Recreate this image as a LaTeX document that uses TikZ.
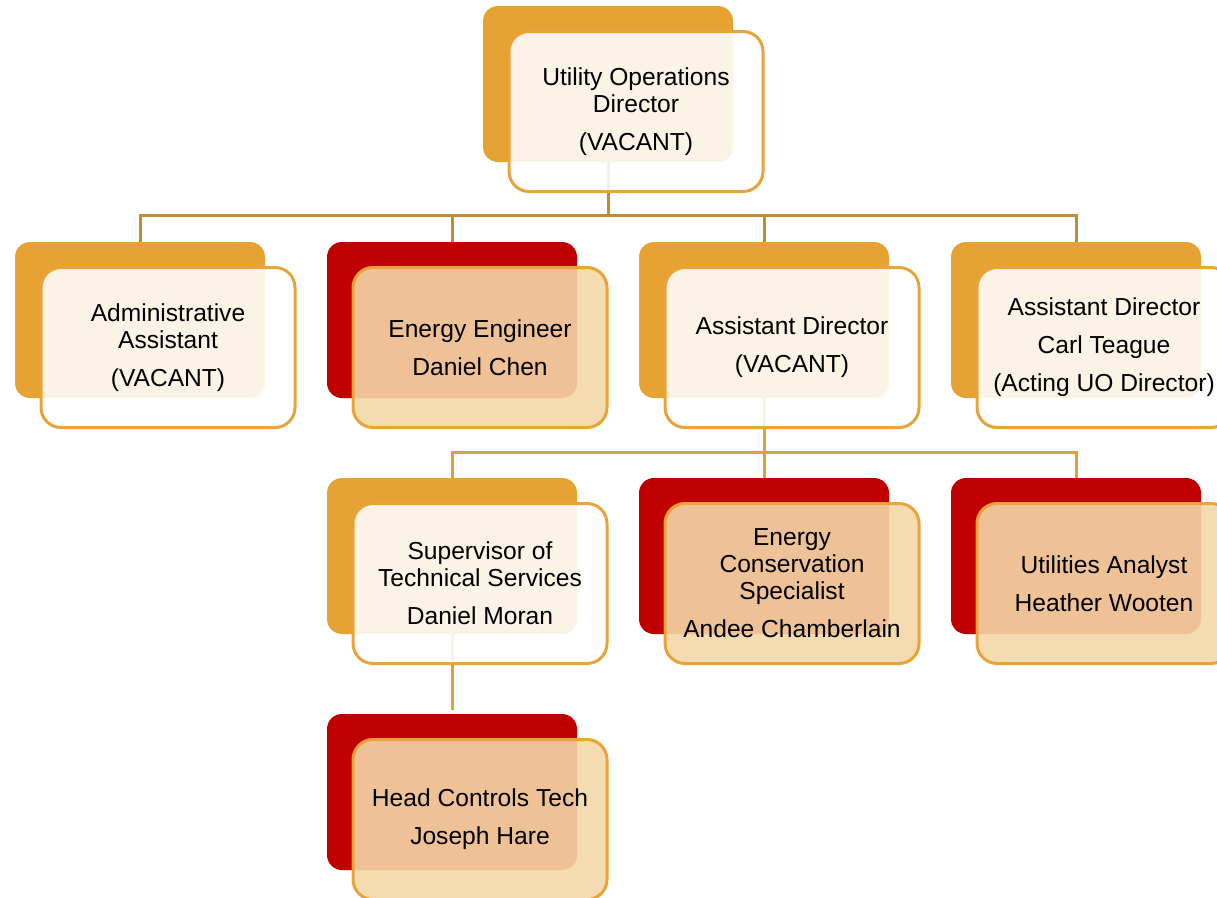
\documentclass[tikz,border=0pt]{standalone}
\usepackage{fontspec}
\setmainfont{Liberation Sans}
\definecolor{borange}{HTML}{E6A232}
\definecolor{bred}{HTML}{C00000}
\definecolor{bline}{HTML}{E8A33A}
\definecolor{peach}{RGB}{244,216,167}
\definecolor{connA}{HTML}{C38B35}
\definecolor{connB}{HTML}{DFA035}
\tikzset{
  backbox/.style={rounded corners=15pt, minimum width=250pt, minimum height=156pt, inner sep=0pt, outer sep=0pt, draw=none},
  backO/.style={backbox, fill=borange},
  backR/.style={backbox, fill=bred},
  frontbox/.style={draw=bline, line width=3pt, rounded corners=20pt, minimum width=254pt, minimum height=160pt, inner sep=0pt, outer sep=0pt, text opacity=1, align=center, text=black, font=\fontsize{24.6pt}{27pt}\selectfont},
  frontW/.style={frontbox, fill=white, fill opacity=0.88},
  frontP/.style={frontbox, fill=peach, fill opacity=0.9},
  connA/.style={draw=connA, line width=3pt},
  connB/.style={draw=connB, line width=3pt}
}
\begin{document}
\begin{tikzpicture}[x=1pt,y=-1pt]
\useasboundingbox (0,0) rectangle (1217,897);
\clip (0,0) rectangle (1217,897);
% back boxes
\node[backO] (top-b) at (608,84) {};
\node[backO] (adm-b) at (140,320) {};
\node[backR] (ee-b) at (452,320) {};
\node[backO] (ad-b) at (764,320) {};
\node[backO] (ct-b) at (1076,320) {};
\node[backO] (sup-b) at (452,556) {};
\node[backR] (ecs-b) at (764,556) {};
\node[backR] (ua-b) at (1076,556) {};
\node[backR] (hct-b) at (452,792) {};
% connectors
\coordinate (bus1) at (608,215);
\draw[connA] (top-b.south) -- (bus1);
\foreach \c in {adm-b,ee-b,ad-b,ct-b} \draw[connA] (\c.north) |- (bus1);
\coordinate (bus2) at (764,452);
\draw[connB] (ad-b.south) -- (bus2);
\foreach \c in {sup-b,ecs-b,ua-b} \draw[connB] (\c.north) |- (bus2);
\coordinate (hctin) at (452,710);
\draw[connB] (sup-b.south) -- (hctin);
% front boxes
\node[frontW] (top) at (636,111.5) {Utility Operations\\Director\\[11pt](VACANT)};
\node[frontW] (adm) at (168,347.5) {Administrative\\Assistant\\[11pt](VACANT)};
\node[frontP] (ee) at (480,347.5) {Energy Engineer\\[11pt]Daniel Chen};
\node[frontW] (ad) at (792,347.5) {Assistant Director\\[11pt](VACANT)};
\node[frontW] (ct) at (1104,347.5) {Assistant Director\\[11pt]Carl Teague\\[11pt](Acting UO Director)};
\node[frontW] (sup) at (480,583.5) {Supervisor of\\Technical Services\\[11pt]Daniel Moran};
\node[frontP] (ecs) at (792,583.5) {Energy\\Conservation\\Specialist\\[11pt]Andee Chamberlain};
\node[frontP] (ua) at (1104,583.5) {Utilities Analyst\\[11pt]Heather Wooten};
\node[frontP] (hct) at (480,819.5) {Head Controls Tech\\[11pt]Joseph Hare};
\end{tikzpicture}
\end{document}
